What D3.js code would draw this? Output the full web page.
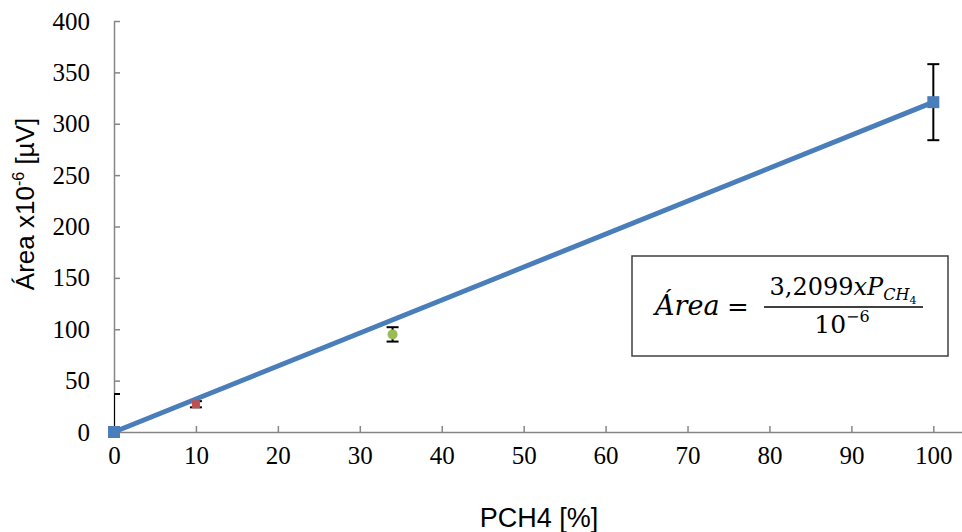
<!DOCTYPE html>
<html>
<head>
<meta charset="utf-8">
<script src="https://cdn.jsdelivr.net/npm/d3@7"></script>
<style>
  body { margin: 0; background: #fff; }
  svg { display: block; }
</style>
</head>
<body>
<script>
// calibration points: concentration, mean area, error, marker look
var pch4 = [0, 10, 34, 100];
var area = [0, 27, 95, 321];
var errs = [37, 3, 7, 37];
var colors = ["#4a7ebb", "#c0504d", "#9bbb59", "#4a7ebb"];
var shapes = ["square", "square", "circle", "square"];
var sizes = [12, 8, 10, 12];
// fitted line (blue series)
var fitX = [0, 100];
var fitY = [0, 321];
var xTicks = [0, 10, 20, 30, 40, 50, 60, 70, 80, 90, 100];
var yTicks = [0, 50, 100, 150, 200, 250, 300, 350, 400];

var width = 962, height = 532;
var svg = d3.select("body").append("svg")
  .attr("width", width).attr("height", height);

var x = d3.scaleLinear().domain([0, 103.5]).range([114, 962]);
var y = d3.scaleLinear().domain([0, 400]).range([432, 21]);

svg.append("defs").append("clipPath").attr("id", "plot")
  .append("rect").attr("x", 114).attr("y", 21)
  .attr("width", 848).attr("height", 411);

// axes
var xAxis = svg.append("g").attr("transform", "translate(0,432)")
  .call(d3.axisBottom(x).tickValues(xTicks).tickSizeInner(-6).tickSizeOuter(0).tickPadding(14));
var yAxis = svg.append("g").attr("transform", "translate(114,0)")
  .call(d3.axisLeft(y).tickValues(yTicks).tickSizeInner(-6).tickSizeOuter(0).tickPadding(24));

[xAxis, yAxis].forEach(function(g) {
  g.selectAll("path, line").attr("stroke", "#868686").attr("stroke-width", 1.5);
  g.selectAll("text").attr("font-family", "Liberation Serif, Times New Roman, serif")
    .attr("font-size", 25).attr("fill", "#000");
});
xAxis.selectAll("text").attr("dy", "0.71em");

var plot = svg.append("g").attr("clip-path", "url(#plot)");

// error bars
pch4.forEach(function(v, i) {
  var cx = x(v), top = y(area[i] + errs[i]), bot = y(area[i] - errs[i]);
  var g = plot.append("g").attr("stroke", "#000").attr("stroke-width", 2);
  g.append("line").attr("x1", cx).attr("x2", cx).attr("y1", top).attr("y2", bot);
  g.append("line").attr("x1", cx - 6).attr("x2", cx + 6).attr("y1", top).attr("y2", top);
  g.append("line").attr("x1", cx - 6).attr("x2", cx + 6).attr("y1", bot).attr("y2", bot);
});

// fitted line
var line = d3.line().x(function(d, i) { return x(fitX[i]); }).y(function(d) { return y(d); });
svg.append("path").datum(fitY).attr("d", line)
  .attr("fill", "none").attr("stroke", "#4a7ebb").attr("stroke-width", 5);

// markers
pch4.forEach(function(v, i) {
  var s = sizes[i];
  if (shapes[i] === "circle") {
    svg.append("circle").attr("cx", x(v)).attr("cy", y(area[i])).attr("r", s / 2)
      .attr("fill", colors[i]);
  } else {
    svg.append("rect").attr("x", x(v) - s / 2).attr("y", y(area[i]) - s / 2)
      .attr("width", s).attr("height", s).attr("fill", colors[i]);
  }
});

// axis titles
svg.append("text").attr("x", 539).attr("y", 527).attr("text-anchor", "middle")
  .attr("font-family", "Liberation Sans, Arial, sans-serif").attr("font-size", 27)
  .text("PCH4 [%]");

var yt = svg.append("text").attr("transform", "translate(34,204) rotate(-90)")
  .attr("text-anchor", "middle")
  .attr("font-family", "Liberation Sans, Arial, sans-serif").attr("font-size", 26);
yt.append("tspan").text("Área x10");
yt.append("tspan").attr("dy", -10).attr("font-size", 16).text("-6");
yt.append("tspan").attr("dy", 10).text(" [µV]");

// equation box
var eq = svg.append("g");
eq.append("rect").attr("x", 632).attr("y", 256).attr("width", 316).attr("height", 100)
  .attr("fill", "#fff").attr("stroke", "#404040").attr("stroke-width", 1.5);
var serif = "DejaVu Serif, Liberation Serif, serif";
eq.append("text").attr("x", 655).attr("y", 315).attr("font-family", serif)
  .attr("font-size", 27).attr("font-style", "italic").text("Área");
eq.append("text").attr("x", 727).attr("y", 316).attr("font-family", serif)
  .attr("font-size", 26).text("=");
var num = eq.append("text").attr("x", 843).attr("y", 295).attr("text-anchor", "middle")
  .attr("font-family", serif).attr("font-size", 24);
num.append("tspan").text("3,2099");
num.append("tspan").attr("font-style", "italic").text("xP");
num.append("tspan").attr("font-style", "italic").attr("font-size", 16).attr("dy", 5).text("CH");
num.append("tspan").attr("font-size", 11).attr("dy", 4).text("4");
eq.append("line").attr("x1", 764).attr("x2", 923).attr("y1", 307).attr("y2", 307)
  .attr("stroke", "#000").attr("stroke-width", 1.5);
var den = eq.append("text").attr("x", 842).attr("y", 333).attr("text-anchor", "middle")
  .attr("font-family", serif).attr("font-size", 25);
den.append("tspan").text("10");
den.append("tspan").attr("font-size", 16).attr("dy", -11).text("−6");
</script>
</body>
</html>
